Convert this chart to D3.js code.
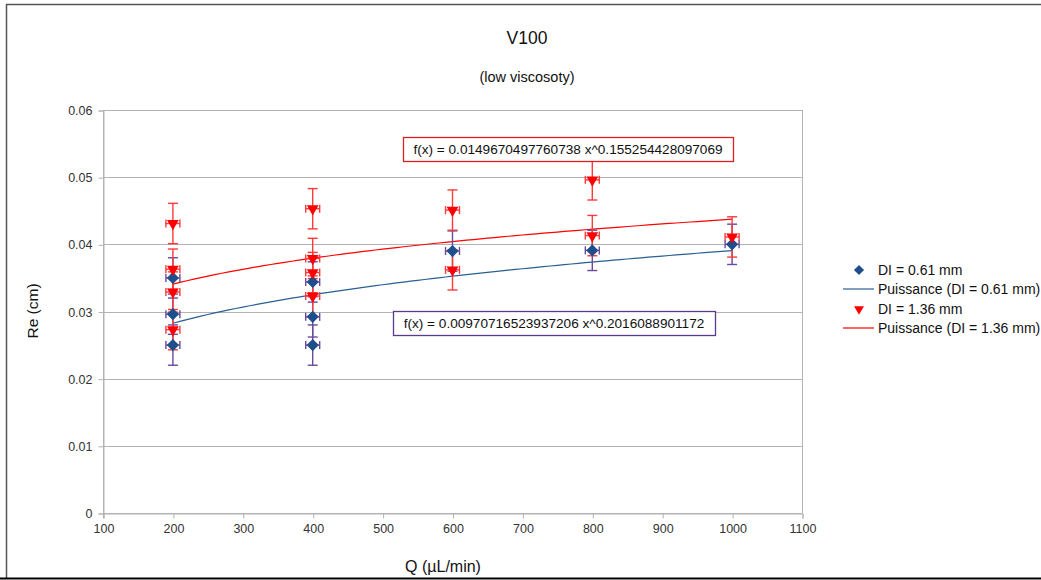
<!DOCTYPE html>
<html><head><meta charset="utf-8">
<script src="https://cdn.jsdelivr.net/npm/d3@7"></script>
<style>body{margin:0;background:#fff}text{font-family:"Liberation Sans",Arial,sans-serif}</style>
</head><body><svg id="c" width="1041" height="580"></svg>
<script>
const xTicks = [100,200,300,400,500,600,700,800,900,1000,1100];
const yTicks = [0,0.01,0.02,0.03,0.04,0.05,0.06];
const qBlue = [200,200,200,400,400,400,600,800,1000];
const reBlue = [0.0350,0.0296,0.0250,0.0344,0.0292,0.0250,0.0390,0.0391,0.0400];
const qRed = [200,200,200,200,400,400,400,400,600,600,800,800,1000];
const reRed = [0.0431,0.0363,0.0329,0.0273,0.0453,0.0379,0.0358,0.0323,0.0451,0.0362,0.0496,0.0413,0.0411];
const yErr = 0.003, xErr = 10;
const fitBlue = {a:0.00970716523937206, b:0.2016088901172};
const fitRed = {a:0.0149670497760738, b:0.155254428097069};
const fitLabelBlue = "f(x) = 0.00970716523937206 x^0.2016088901172";
const fitLabelRed = "f(x) = 0.0149670497760738 x^0.155254428097069";
const legendLabels = ["DI = 0.61 mm","Puissance (DI = 0.61 mm)","DI = 1.36 mm","Puissance (DI = 1.36 mm)"];

const svg = d3.select("#c");
const BLUE="#1f4e8c", BLUEBAR="#6a4a9c", RED="#ff0000", REDBAR="#ff3a3a", TREND_B="#2a5f93";
svg.append("path").attr("d","M6.5,579 V4.5 H1041").attr("fill","none").attr("stroke","#555").attr("stroke-width",1.5);
svg.append("line").attr("x1",0).attr("x2",1041).attr("y1",578.5).attr("y2",578.5).attr("stroke","#000").attr("stroke-width",2);

const x = d3.scaleLinear().domain([100,1100]).range([103,802]);
const y = d3.scaleLinear().domain([0,0.06]).range([513,110]);

svg.append("g").selectAll("line").data(yTicks).join("line")
  .attr("x1",x(100)).attr("x2",x(1100)).attr("y1",d=>Math.round(y(d))+0.5).attr("y2",d=>Math.round(y(d))+0.5)
  .attr("stroke","#b3b3b3");
svg.append("line").attr("x1",x(100)+0.5).attr("x2",x(100)+0.5).attr("y1",y(0.06)).attr("y2",y(0)+5).attr("stroke","#b3b3b3");
svg.append("line").attr("x1",x(1100)+0.5).attr("x2",x(1100)+0.5).attr("y1",y(0.06)).attr("y2",y(0)).attr("stroke","#b3b3b3");

const yAxis = d3.axisLeft(y).tickValues(yTicks).tickSize(5).tickPadding(6).tickFormat(d=>d===0?"0":d3.format(".2f")(d));
const gy = svg.append("g").attr("transform",`translate(${x(100)+0.5},0.5)`).call(yAxis);
const xAxis = d3.axisBottom(x).tickValues(xTicks).tickSize(5).tickPadding(6).tickFormat(d3.format("d"));
const gx = svg.append("g").attr("transform",`translate(0.5,${Math.round(y(0))+0.5})`).call(xAxis);
[gx,gy].forEach(g=>{g.select(".domain").attr("stroke","#b3b3b3");g.selectAll(".tick line").attr("stroke","#b3b3b3");
  g.selectAll("text").attr("fill","#333").attr("font-size",12.5).attr("font-family","Liberation Sans, Arial, sans-serif");});

svg.append("text").attr("x",527).attr("y",44).attr("text-anchor","middle").attr("font-size",17.5).attr("fill","#111").text("V100");
svg.append("text").attr("x",527).attr("y",82).attr("text-anchor","middle").attr("font-size",14.5).attr("fill","#111").text("(low viscosoty)");
svg.append("text").attr("transform","translate(38,311) rotate(-90)").attr("text-anchor","middle").attr("font-size",15.5).attr("fill","#111").text("Re (cm)");
svg.append("text").attr("x",443).attr("y",572).attr("text-anchor","middle").attr("font-size",16).attr("fill","#111").text("Q (µL/min)");

function trend(f,color){
  const qs = d3.range(200,1001,10);
  svg.append("path").datum(qs).attr("fill","none").attr("stroke",color).attr("stroke-width",1.2)
    .attr("d",d3.line().x(q=>x(q)).y(q=>y(f.a*Math.pow(q,f.b))));
}
trend(fitBlue,TREND_B);
trend(fitRed,RED);

function errorBars(qs,vals,color){
  const g = svg.append("g").attr("stroke",color).attr("stroke-width",1.4).attr("fill","none");
  qs.forEach((q,i)=>{
    const v=vals[i], cx=x(q), cy=y(v);
    const y1=y(v+yErr), y2=y(v-yErr), x1=x(q-xErr), x2=x(q+xErr);
    g.append("line").attr("x1",cx).attr("x2",cx).attr("y1",y1).attr("y2",y2);
    g.append("line").attr("x1",cx-5).attr("x2",cx+5).attr("y1",y1).attr("y2",y1);
    g.append("line").attr("x1",cx-5).attr("x2",cx+5).attr("y1",y2).attr("y2",y2);
    g.append("line").attr("x1",x1).attr("x2",x2).attr("y1",cy).attr("y2",cy);
    g.append("line").attr("x1",x1).attr("x2",x1).attr("y1",cy-4).attr("y2",cy+4);
    g.append("line").attr("x1",x2).attr("x2",x2).attr("y1",cy-4).attr("y2",cy+4);
  });
}
errorBars(qBlue,reBlue,BLUEBAR);
errorBars(qRed,reRed,REDBAR);

const diamond = d3.symbol().type(d3.symbolDiamond2).size(95)();
const tri = d3.symbol().type(d3.symbolTriangle2).size(100)();
svg.append("g").selectAll("path").data(qBlue).join("path")
  .attr("d",diamond).attr("fill",BLUE).attr("transform",(q,i)=>`translate(${x(q)},${y(reBlue[i])})`);
svg.append("g").selectAll("path").data(qRed).join("path")
  .attr("d",tri).attr("fill",RED).attr("transform",(q,i)=>`translate(${x(q)},${y(reRed[i])}) rotate(180)`);

function label(x0,y0,w,h,txt,color){
  svg.append("rect").attr("x",x0+0.5).attr("y",y0+0.5).attr("width",w).attr("height",h).attr("fill","#fff").attr("stroke",color).attr("stroke-width",1.3);
  svg.append("text").attr("x",x0+w/2).attr("y",y0+h/2+5).attr("text-anchor","middle").attr("font-size",13.6).attr("fill","#111").text(txt);
}
label(403,137,330,24,fitLabelRed,"#e02020");
label(393,311,322,24,fitLabelBlue,"#5a3a8a");

const lg = svg.append("g");
const rows=[270,289,309,328];
legendLabels.forEach((t,i)=>{
  lg.append("text").attr("x",878).attr("y",rows[i]+5).attr("font-size",14).attr("fill","#111").text(t);
});
lg.append("path").attr("d",d3.symbol().type(d3.symbolDiamond2).size(65)()).attr("fill",BLUE).attr("transform",`translate(859,${rows[0]})`);
lg.append("line").attr("x1",843).attr("x2",874).attr("y1",rows[1]).attr("y2",rows[1]).attr("stroke",TREND_B).attr("stroke-width",1.2);
lg.append("path").attr("d",d3.symbol().type(d3.symbolTriangle2).size(70)()).attr("fill",RED).attr("transform",`translate(859,${rows[2]}) rotate(180)`);
lg.append("line").attr("x1",843).attr("x2",874).attr("y1",rows[3]).attr("y2",rows[3]).attr("stroke",RED).attr("stroke-width",1.2);
</script></body></html>
